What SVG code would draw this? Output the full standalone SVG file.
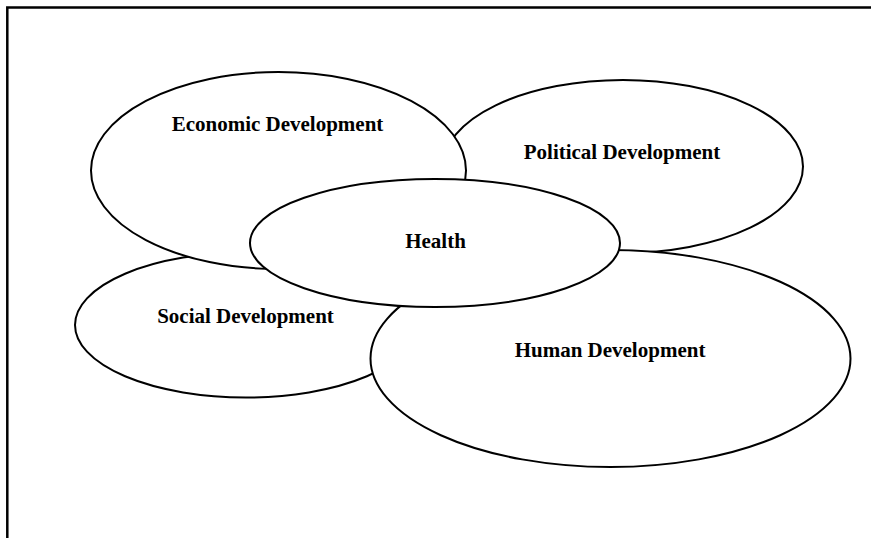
<svg xmlns="http://www.w3.org/2000/svg" width="871" height="538" viewBox="0 0 871 538">
<style>
.n ellipse{fill:#fff;stroke:#000;stroke-width:2}
.n text{font-family:"Liberation Serif","Times New Roman",serif;font-weight:bold;font-size:21px;text-anchor:middle;fill:#000}
.frame{fill:none;stroke:#000;stroke-width:2.5}
</style>
<rect width="871" height="538" fill="#fff"/>
<path class="frame" d="M7.3,538 V7.6 H871"/>
<g id="connectors"/>
<g id="social" class="n"><ellipse cx="246" cy="325" rx="171" ry="72.5"/><text x="245.5" y="323">Social Development</text></g>
<g id="political" class="n"><ellipse cx="623" cy="166.5" rx="180" ry="86.5"/><text x="622" y="159">Political Development</text></g>
<g id="economic" class="n"><ellipse cx="278.5" cy="170.5" rx="187.5" ry="98.5"/><text x="277.5" y="131">Economic Development</text></g>
<g id="human" class="n"><ellipse cx="610.5" cy="358.5" rx="240" ry="108.5"/><text x="610" y="357">Human Development</text></g>
<g id="health" class="n"><ellipse cx="435" cy="243" rx="185" ry="64"/><text x="435.5" y="248">Health</text></g>
</svg>
